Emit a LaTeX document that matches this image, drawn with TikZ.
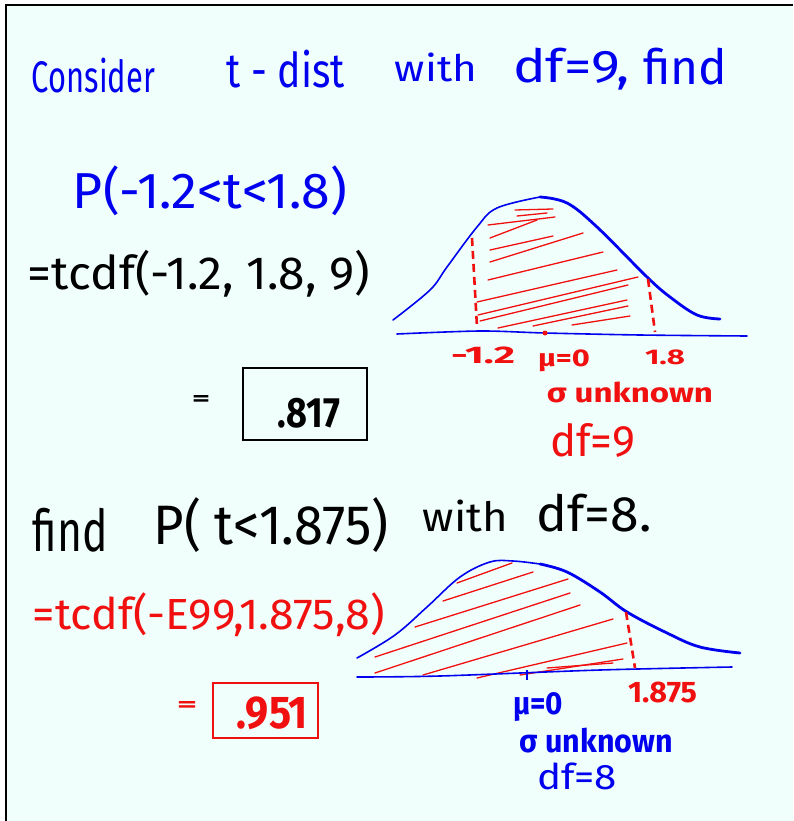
\documentclass[tikz,border=0pt]{standalone}
\usepackage{fontspec}
\setmainfont{Fira Sans}
\usepackage{graphicx}
\definecolor{bg}{HTML}{F0FFFB}
\definecolor{pblue}{HTML}{0000EE}
\definecolor{pred}{HTML}{F01010}
\newcommand\fitto[3]{\resizebox*{#1pt}{#2pt}{#3}}
\tikzset{
  txt/.style={inner sep=0pt, outer sep=0pt, anchor=center},
  lbl/.style={txt, font=\bfseries},
  curvethin/.style={pblue, line width=1.6pt, line cap=round, line join=round},
  curvethick/.style={pblue, line width=2.8pt, line cap=round, line join=round},
  axisline/.style={pblue, line width=1.6pt, line cap=round},
  hatch/.style={pred, line width=1.3pt, line cap=round},
  cut/.style={pred, line width=2.6pt, dash pattern=on 8pt off 5pt},
  ansbox/.style={draw, line width=1.8pt, inner sep=0pt}
}
\begin{document}
\begin{tikzpicture}[x=1pt,y=-1pt]
\useasboundingbox (0,0) rectangle (793,821);
\fill[white] (0,0) rectangle (793,821);
\fill[bg] (6,5) rectangle (793,821);
\draw[line width=2.6pt] (6,821) -- (6,5) -- (793,5);

% --- heading
\node[txt, pblue] (h1) at (93.5,75.5) {\fitto{123}{35}{Consider}};
\node[txt, pblue] (h2) at (286,69) {\fitto{118}{38}{t - dist}};
\node[txt, pblue] (h3) at (436,67.5) {\fitto{82}{29}{with}};
\node[txt, pblue] (h4) at (571.5,69) {\fitto{117}{42}{df=9,}};
\node[txt, pblue] (h5) at (685,66.5) {\fitto{84}{37}{find}};

% --- first problem
\node[txt, pblue] (p1) at (210,191) {\fitto{274}{50}{P(-1.2<t<1.8)}};
\node[txt] (p2) at (199,273.5) {\fitto{342}{47}{=tcdf(-1.2, 1.8, 9)}};
\node[lbl] (eq1) at (201,400) {\fitto{18}{10}{=}};
\node[ansbox, minimum width=124pt, minimum height=72pt] (box1) at (305,404) {};
\node[lbl] (a1) at (309,413) {\fitto{62}{30}{.817}};

% --- first curve
\draw[hatch] (515,210) -- (553,209);
\draw[hatch] (517,216) -- (547,213);
\draw[hatch] (488,225) -- (555,217);
\draw[hatch] (490,238) -- (537,220);
\draw[hatch] (490,250) -- (553,236);
\draw[hatch] (490,262) -- (583,233);
\draw[hatch] (488,280) -- (603,252);
\draw[hatch] (477,302) -- (617,270);
\draw[hatch] (478,315) -- (638,277);
\draw[hatch] (480,321) -- (628,285);
\draw[hatch] (498,328) -- (627,300);
\draw[hatch] (533,326) -- (628,306);
\draw[hatch] (572,325) -- (630,316);
\draw[curvethin] plot[smooth, tension=0.6] coordinates {(393,320) (430,290) (447,267) (477,227) (497,208) (540,197)};
\draw[curvethick] plot[smooth, tension=0.6] coordinates {(540,197) (567,203) (597,227) (647,277) (670,297) (697,315) (720,319)};
\draw[axisline] plot[smooth, tension=0.5] coordinates {(397,334) (480,331) (545,333) (640,335) (747,336)};
\draw[cut] (472,238) -- (477,327);
\draw[cut] (648,279) -- (655,332);
\fill[pred] (545,333) circle (2.5pt);
\node[lbl, pred] (l1) at (483,355) {\fitto{64}{17}{-1.2}};
\node[lbl, pred] (l2) at (564,361) {\fitto{52}{22}{μ=0}};
\node[lbl, pred] (l3) at (665,357.5) {\fitto{40}{15}{1.8}};
\node[lbl, pred] (l4) at (630,392.5) {\fitto{166}{21}{σ unknown}};
\node[txt, pred] (l5) at (592.5,440) {\fitto{85}{34}{df=9}};

% --- second problem
\node[txt] (q1) at (70.5,530) {\fitto{75}{44}{find}};
\node[txt] (q2) at (271,525) {\fitto{235}{55}{P( t<1.875)}};
\node[txt] (q3) at (465.5,516) {\fitto{85}{32}{with}};
\node[txt] (q4) at (594,513) {\fitto{115}{38}{df=8.}};
\node[txt, pred] (q5) at (209,615) {\fitto{352}{44}{=tcdf(-E99,1.875,8)}};
\node[lbl, pred] (eq2) at (187,706.5) {\fitto{20}{10}{=}};
\node[ansbox, pred, minimum width=105pt, minimum height=55pt] (box2) at (265.5,710.5) {};
\node[lbl, pred] (a2) at (272.5,713.5) {\fitto{71}{33}{.951}};

% --- second curve
\draw[hatch] (457,583) -- (512,563);
\draw[hatch] (443,601) -- (533,572);
\draw[hatch] (415,627) -- (568,579);
\draw[hatch] (375,657) -- (570,593);
\draw[hatch] (375,673) -- (580,605);
\draw[hatch] (423,675) -- (613,619);
\draw[hatch] (477,678) -- (627,643);
\draw[hatch] (520,675) -- (623,659);
\draw[hatch] (547,668) -- (613,663);
\draw[curvethin] plot[smooth, tension=0.6] coordinates {(357,658) (395,635) (427,607) (460,577) (490,562) (513,561) (540,564)};
\draw[curvethick] plot[smooth, tension=0.6] coordinates {(540,564) (567,572) (600,592) (627,612) (667,633) (700,647) (740,653)};
\draw[axisline] plot[smooth, tension=0.5] coordinates {(357,677) (440,676) (600,670) (732,667)};
\draw[cut] (626,612) -- (635,668);
\draw[pblue, line width=2.2pt] (527,670) -- (527,680);
\node[lbl, pred] (m1) at (662.5,692.5) {\fitto{69}{21}{1.875}};
\node[lbl, pblue] (m2) at (538,707.5) {\fitto{50}{29}{μ=0}};
\node[lbl, pblue] (m3) at (596.5,740.5) {\fitto{153}{25}{σ unknown}};
\node[txt, pblue] (m4) at (577,776.5) {\fitto{80}{27}{df=8}};
\end{tikzpicture}
\end{document}
